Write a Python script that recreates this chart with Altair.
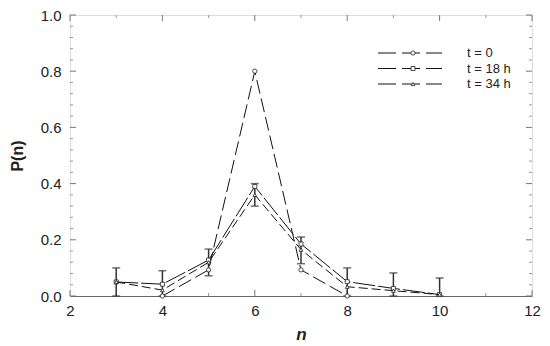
import altair as alt
import pandas as pd

# ---- data ----
n_t0 = [4, 5, 6, 7, 8]
p_t0 = [0.0, 0.093, 0.80, 0.093, 0.0]

n_t18 = [3, 4, 5, 6, 7, 8, 9, 10]
p_t18 = [0.05, 0.042, 0.128, 0.39, 0.185, 0.051, 0.027, 0.005]

n_t34 = [3, 4, 5, 6, 7, 8, 9, 10]
p_t34 = [0.05, 0.021, 0.12, 0.36, 0.165, 0.033, 0.019, 0.005]

err_n = [3, 4, 5, 6, 7, 8, 9, 10]
err_lo = [0.0, 0.0, 0.072, 0.32, 0.115, 0.0, 0.0, 0.0]
err_hi = [0.10, 0.09, 0.167, 0.40, 0.21, 0.10, 0.082, 0.064]

series_labels = ["t = 0", "t = 18 h", "t = 34 h"]
x_major = [2, 4, 6, 8, 10, 12]
x_minor = [3, 5, 7, 9, 11]
y_major = [0.0, 0.2, 0.4, 0.6, 0.8, 1.0]
y_minor = [0.04, 0.08, 0.12, 0.16, 0.24, 0.28, 0.32, 0.36, 0.44, 0.48, 0.52, 0.56,
           0.64, 0.68, 0.72, 0.76, 0.84, 0.88, 0.92, 0.96]

W, H = 462, 281
FONT = "Liberation Sans"
INK = "#222222"

dashes = [[14, 5], [22, 3], [9, 4]]
shapes = ["circle", "square", "triangle-up"]
sizes = [18, 16, 14]

xs = alt.Scale(domain=[2, 12], nice=False, zero=False)
ys = alt.Scale(domain=[0, 1], nice=False)

frames = [
    pd.DataFrame({"n": n_t0, "p": p_t0}),
    pd.DataFrame({"n": n_t18, "p": p_t18}),
    pd.DataFrame({"n": n_t34, "p": p_t34}),
]

layers = []

# axes (labels only) on a base layer
base = alt.Chart(pd.DataFrame({"n": [2, 12], "p": [0, 1]})).mark_point(opacity=0).encode(
    x=alt.X("n:Q", scale=xs, axis=alt.Axis(
        values=x_major, title="n", ticks=False, domain=True, domainColor="#666666",
        grid=False, labelFont=FONT, labelFontSize=15, labelColor=INK, labelPadding=7,
        titleFont=FONT, titleFontSize=17, titleFontWeight="bold", titleFontStyle="italic",
        titleColor=INK, titlePadding=8, labelFlush=False)),
    y=alt.Y("p:Q", scale=ys, axis=alt.Axis(
        values=y_major, format=".1f", title="P(n)", ticks=False, domain=False, grid=False,
        labelFont=FONT, labelFontSize=15, labelColor=INK, labelPadding=9,
        titleFont=FONT, titleFontSize=16, titleFontWeight="bold", titleColor=INK,
        titlePadding=15, labelFlush=False)),
)
layers.append(base)

# inward ticks
def xticks(vals, length, color):
    d = pd.DataFrame({"n": vals})
    bot = alt.Chart(d).mark_rule(color=color, strokeWidth=1).encode(
        x=alt.X("n:Q", scale=xs), y=alt.value(H), y2=alt.value(H - length))
    top = alt.Chart(d).mark_rule(color=color, strokeWidth=1).encode(
        x=alt.X("n:Q", scale=xs), y=alt.value(0), y2=alt.value(length))
    return [bot, top]

def yticks(vals, length, color):
    d = pd.DataFrame({"p": vals})
    left = alt.Chart(d).mark_rule(color=color, strokeWidth=1).encode(
        y=alt.Y("p:Q", scale=ys), x=alt.value(0), x2=alt.value(length))
    right = alt.Chart(d).mark_rule(color=color, strokeWidth=1).encode(
        y=alt.Y("p:Q", scale=ys), x=alt.value(W), x2=alt.value(W - length))
    return [left, right]

layers += xticks(x_major, 6, "#777777")
layers += xticks(x_minor, 3, "#999999")
layers += yticks(y_major, 6, "#777777")
layers += yticks(y_minor, 3, "#999999")

# error bars
ed = pd.DataFrame({"n": err_n, "lo": err_lo, "hi": err_hi})
layers.append(alt.Chart(ed).mark_rule(color="#333333", strokeWidth=1.5).encode(
    x=alt.X("n:Q", scale=xs), y=alt.Y("lo:Q", scale=ys), y2="hi:Q"))
layers.append(alt.Chart(ed).mark_tick(color="#333333", orient="horizontal", size=8, thickness=1.5).encode(
    x=alt.X("n:Q", scale=xs), y=alt.Y("hi:Q", scale=ys)))
layers.append(alt.Chart(ed).mark_tick(color="#333333", orient="horizontal", size=8, thickness=1.5).encode(
    x=alt.X("n:Q", scale=xs), y=alt.Y("lo:Q", scale=ys)))

# series lines + markers
for d, dash, shp, sz in zip(frames, dashes, shapes, sizes):
    layers.append(alt.Chart(d).mark_line(color="#111111", strokeWidth=1, strokeDash=dash).encode(
        x=alt.X("n:Q", scale=xs), y=alt.Y("p:Q", scale=ys)))
    layers.append(alt.Chart(d).mark_point(shape=shp, size=sz, color="#222222", fill="white",
                                          filled=True, stroke="#222222", strokeWidth=0.8, opacity=1).encode(
        x=alt.X("n:Q", scale=xs), y=alt.Y("p:Q", scale=ys)))

# manual legend
row_y = [38, 53.5, 69]
for lab, ry, shp, sz in zip(series_labels, row_y, shapes, sizes):
    for (a, b) in [(308, 326), (332, 350), (356, 372)]:
        layers.append(alt.Chart(pd.DataFrame({"s": [lab]})).mark_rule(color="#111111", strokeWidth=1).encode(
            x=alt.value(a), x2=alt.value(b), y=alt.value(ry)))
    layers.append(alt.Chart(pd.DataFrame({"s": [lab]})).mark_point(
        shape=shp, size=sz, fill="white", filled=True, stroke="#222222", strokeWidth=0.8, opacity=1).encode(
        x=alt.value(343), y=alt.value(ry)))
    layers.append(alt.Chart(pd.DataFrame({"s": [lab]})).mark_text(
        align="left", baseline="middle", font=FONT, fontSize=13, color=INK).encode(
        x=alt.value(397), y=alt.value(ry), text="s:N"))

chart = alt.layer(*layers).properties(
    width=W, height=H,
    autosize=alt.AutoSizeParams(type="none"),
    padding={"left": 62, "top": 7, "right": 10, "bottom": 50},
).configure_view(stroke="#aaaaaa", strokeWidth=1).configure(background="white")

chart.save("out.html", embed_options={"renderer": "svg", "actions": False})
